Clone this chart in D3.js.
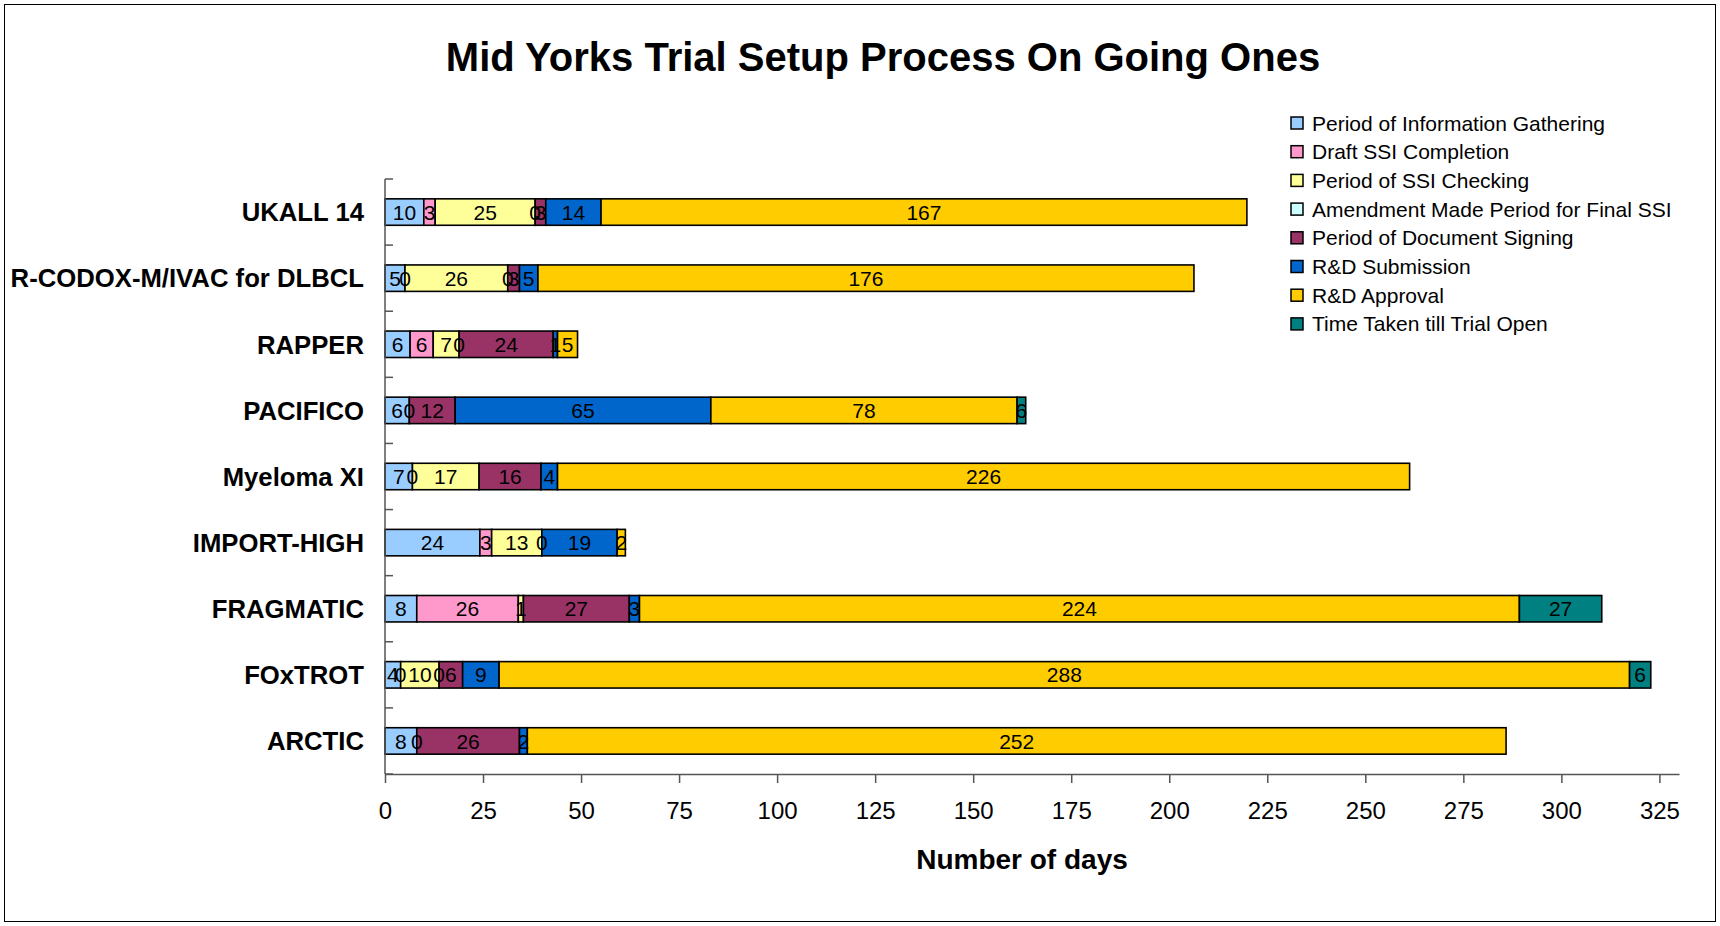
<!DOCTYPE html>
<html>
<head>
<meta charset="utf-8">
<script src="https://cdn.jsdelivr.net/npm/d3@7/dist/d3.min.js"></script>
<style>
  body { margin: 0; background: #fff; }
  text { font-family: "Liberation Sans", Arial, sans-serif; }
</style>
</head>
<body>
<script>
var categories = ["UKALL 14", "R-CODOX-M/IVAC for DLBCL", "RAPPER", "PACIFICO", "Myeloma XI",
                  "IMPORT-HIGH", "FRAGMATIC", "FOxTROT", "ARCTIC"];

var seriesNames = ["Period of Information Gathering", "Draft SSI Completion", "Period of SSI Checking",
                   "Amendment Made Period for Final SSI", "Period of Document Signing", "R&D Submission",
                   "R&D Approval", "Time Taken till Trial Open"];

// days per stage, one entry per trial
var infoGathering = [9.9, 5.1, 6.4, 6.2, 7.0, 24.2, 8.1, 4.0, 8.1];
var draftSSI      = [2.9, 0, 5.9, 0, 0, 3.0, 25.9, 0, 0];
var ssiChecking   = [25.5, 26.2, 6.6, 0, 17.0, 12.8, 1.3, 9.8, 0];
var amendment     = [0, 0, 0, 0, 0, 0, 0, 0, 0];
var docSigning    = [2.7, 3.0, 24.0, 11.7, 15.8, 0, 27.0, 6.0, 26.2];
var rdSubmission  = [14.1, 4.7, 1.1, 65.2, 4.2, 19.2, 2.6, 9.3, 2.0];
var rdApproval    = [164.7, 167.3, 5.1, 78.1, 217.3, 2.1, 224.4, 288.3, 249.6];
var trialOpen     = [0, 0, 0, 2.2, 0, 0, 21.0, 5.4, 0];

// data labels as printed on the chart
var infoLabels     = ["10", "5", "6", "6", "7", "24", "8", "4", "8"];
var draftLabels    = ["3", "0", "6", "0", "0", "3", "26", "0", "0"];
var checkLabels    = ["25", "26", "7", "", "17", "13", "1", "10", ""];
var amendLabels    = ["0", "0", "0", "", "", "0", "", "0", ""];
var signLabels     = ["3", "3", "24", "12", "16", "", "27", "6", "26"];
var subLabels      = ["14", "5", "1", "65", "4", "19", "3", "9", "2"];
var approvalLabels = ["167", "176", "5", "78", "226", "2", "224", "288", "252"];
var openLabels     = ["", "", "", "6", "", "", "27", "6", ""];

var xTicks = [0, 25, 50, 75, 100, 125, 150, 175, 200, 225, 250, 275, 300, 325];

var seriesValues = [infoGathering, draftSSI, ssiChecking, amendment, docSigning, rdSubmission, rdApproval, trialOpen];
var seriesLabels = [infoLabels, draftLabels, checkLabels, amendLabels, signLabels, subLabels, approvalLabels, openLabels];
var colors = ["#99CCFF", "#FF99CC", "#FFFF99", "#CCFFFF", "#993366", "#0066CC", "#FFCC00", "#008080"];

var width = 1720, height = 926;
var keys = seriesNames.map(function(d, i) { return "s" + i; });

var table = categories.map(function(c, i) {
    var row = { name: c };
    keys.forEach(function(k, j) { row[k] = seriesValues[j][i]; });
    return row;
});
var stacked = d3.stack().keys(keys)(table);

var svg = d3.select("body").append("svg")
    .attr("width", width)
    .attr("height", height);

// outer frame
svg.append("rect")
    .attr("x", 4.5).attr("y", 4.5)
    .attr("width", width - 9).attr("height", height - 9)
    .attr("fill", "#fff")
    .attr("stroke", "#000")
    .attr("stroke-width", 1);

var x = d3.scaleLinear().domain([0, 330]).range([385, 1679]);
var y = d3.scaleBand().domain(categories).range([179, 774]).paddingInner(0.6).paddingOuter(0.3);

svg.append("text")
    .attr("x", 883).attr("y", 71)
    .attr("text-anchor", "middle")
    .style("font-size", "40px")
    .style("font-weight", "bold")
    .text("Mid Yorks Trial Setup Process On Going Ones");

// bars
var layers = svg.append("g").selectAll("g")
    .data(stacked)
    .join("g")
    .attr("fill", function(d, i) { return colors[i]; });

layers.selectAll("rect")
    .data(function(d) { return d.filter(function(p) { return p[1] - p[0] > 0; }); })
    .join("rect")
    .attr("x", function(p) { return x(p[0]); })
    .attr("y", function(p) { return y(p.data.name); })
    .attr("width", function(p) { return x(p[1]) - x(p[0]); })
    .attr("height", y.bandwidth())
    .attr("stroke", "#000")
    .attr("stroke-width", 1.6);

// data labels
stacked.forEach(function(layer, j) {
    svg.append("g").selectAll("text")
        .data(layer.filter(function(p, i) { return seriesLabels[j][i] !== ""; }))
        .join("text")
        .attr("x", function(p) { return x((p[0] + p[1]) / 2); })
        .attr("y", function(p) { return y(p.data.name) + y.bandwidth() / 2; })
        .attr("dy", "0.36em")
        .attr("text-anchor", "middle")
        .style("font-size", "21px")
        .text(function(p) { return seriesLabels[j][categories.indexOf(p.data.name)]; });
});

// y axis, ticks between categories pointing in
var yAxis = svg.append("g");
yAxis.append("line")
    .attr("x1", 385).attr("x2", 385)
    .attr("y1", 179).attr("y2", 774)
    .attr("stroke", "#555").attr("stroke-width", 1.5);
yAxis.selectAll(".ytick")
    .data(d3.range(categories.length + 1))
    .join("line")
    .attr("class", "ytick")
    .attr("x1", 385).attr("x2", 393)
    .attr("y1", function(i) { return 179 + i * y.step(); })
    .attr("y2", function(i) { return 179 + i * y.step(); })
    .attr("stroke", "#555").attr("stroke-width", 1.5);
yAxis.selectAll(".ylabel")
    .data(categories)
    .join("text")
    .attr("class", "ylabel")
    .attr("x", 364)
    .attr("y", function(d) { return y(d) + y.bandwidth() / 2; })
    .attr("dy", "0.36em")
    .attr("text-anchor", "end")
    .style("font-size", "25.7px")
    .style("font-weight", "bold")
    .text(function(d) { return d; });

// x axis
var xAxis = svg.append("g")
    .attr("transform", "translate(0,774)")
    .call(d3.axisBottom(x).tickValues(xTicks).tickSize(9).tickSizeOuter(0).tickPadding(19));
xAxis.select(".domain").attr("stroke", "#555").attr("stroke-width", 1.5);
xAxis.selectAll(".tick line").attr("stroke", "#555").attr("stroke-width", 1.5);
xAxis.selectAll(".tick text")
    .style("font-family", "'Liberation Sans', Arial, sans-serif")
    .style("font-size", "24px")
    .attr("fill", "#000");

svg.append("text")
    .attr("x", 1022).attr("y", 869)
    .attr("text-anchor", "middle")
    .style("font-size", "28px")
    .style("font-weight", "bold")
    .text("Number of days");

// legend
var legend = svg.append("g").selectAll("g")
    .data(seriesNames)
    .join("g")
    .attr("transform", function(d, i) { return "translate(1291," + (123 + i * 28.7) + ")"; });
legend.append("rect")
    .attr("x", 0).attr("y", -6)
    .attr("width", 12).attr("height", 12)
    .attr("fill", function(d, i) { return colors[i]; })
    .attr("stroke", "#000")
    .attr("stroke-width", 1.5);
legend.append("text")
    .attr("x", 21).attr("y", 0)
    .attr("dy", "0.36em")
    .style("font-size", "21px")
    .text(function(d) { return d; });
</script>
</body>
</html>
